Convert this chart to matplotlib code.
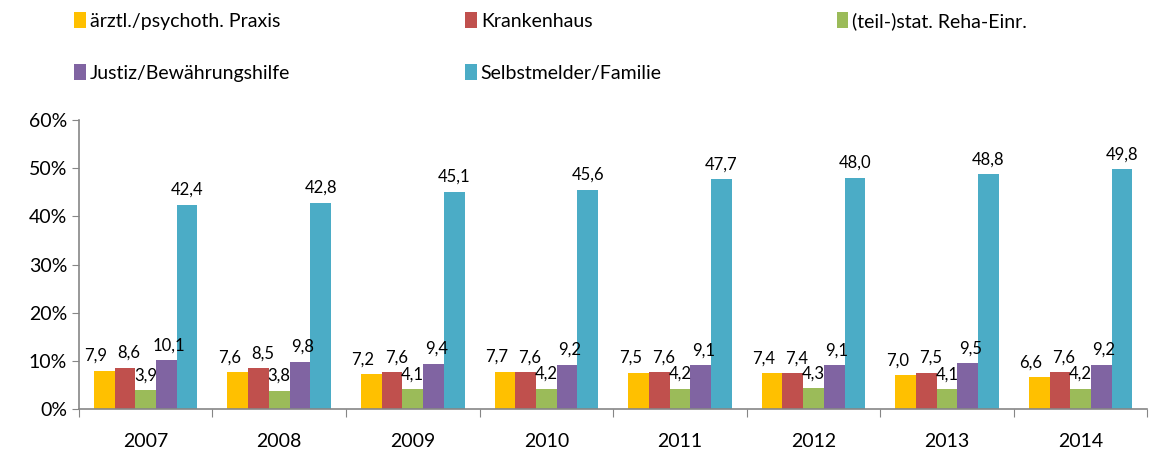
import numpy as np
import matplotlib
matplotlib.use('Agg')
from matplotlib import pyplot as plt
from matplotlib.ticker import FixedLocator, PercentFormatter

years = ['2007', '2008', '2009', '2010', '2011', '2012', '2013', '2014']
series_names = ['ärztl./psychoth. Praxis', 'Krankenhaus', '(teil-)stat. Reha-Einr.',
                'Justiz/Bewährungshilfe', 'Selbstmelder/Familie']
praxis = [7.9, 7.6, 7.2, 7.7, 7.5, 7.4, 7.0, 6.6]
krankenhaus = [8.6, 8.5, 7.6, 7.6, 7.6, 7.4, 7.5, 7.6]
reha = [3.9, 3.8, 4.1, 4.2, 4.2, 4.3, 4.1, 4.2]
justiz = [10.1, 9.8, 9.4, 9.2, 9.1, 9.1, 9.5, 9.2]
selbst = [42.4, 42.8, 45.1, 45.6, 47.7, 48.0, 48.8, 49.8]
colors = ['#FFC000', '#C0504D', '#9BBB59', '#8064A2', '#4BACC6']

if __name__ == '__main__':
    plt.rcParams['font.family'] = ['Lato', 'DejaVu Sans']

    fig = plt.figure(figsize=(11.59, 4.57), dpi=100)
    ax = fig.add_axes([0.068, 0.105, 0.922, 0.632])

    x = np.arange(len(years))
    w = 0.155
    # small sideways nudges of the value labels so neighbours don't collide
    nudge = [-6, 3, 0, 2, 0]
    handles = []
    for i, (vals, name, c) in enumerate(zip([praxis, krankenhaus, reha, justiz, selbst],
                                            series_names, colors)):
        pos = x + (i - 2) * w
        b = ax.bar(pos, vals, w, color=c, label=name, zorder=2)
        handles.append(b)
        for px, v in zip(pos, vals):
            ax.annotate(f'{v:.1f}'.replace('.', ','), (px, v), xytext=(nudge[i], 5),
                        textcoords='offset points', ha='center', va='bottom',
                        fontsize=12, color='#000000')

    ax.set_xlim(-0.5, len(years) - 0.5)
    ax.set_ylim(0, 60)
    ax.set_yticks(np.arange(0, 61, 10))
    ax.yaxis.set_major_formatter(PercentFormatter(decimals=0))
    ax.tick_params(axis='y', labelsize=14, length=5, color='#868686')

    ax.xaxis.set_major_locator(FixedLocator(np.arange(-0.5, len(years), 1)))
    ax.xaxis.set_minor_locator(FixedLocator(x))
    ax.set_xticklabels([], minor=False)
    ax.set_xticklabels(years, minor=True)
    ax.tick_params(axis='x', which='major', length=6, color='#868686')
    ax.tick_params(axis='x', which='minor', length=0, labelsize=14, pad=17)

    for s in ['top', 'right']:
        ax.spines[s].set_visible(False)
    for s in ['left', 'bottom']:
        ax.spines[s].set_color('#868686')
        ax.spines[s].set_linewidth(1.2)

    # legend fills column-wise, reorder so rows read like the original
    order = [0, 3, 1, 4, 2]
    fig.legend(handles=[handles[k] for k in order],
               labels=[series_names[k] for k in order], ncol=3, loc='upper left',
               bbox_to_anchor=(0.049, 1.012), frameon=False, fontsize=14,
               handlelength=0.6, handleheight=0.9, handletextpad=0.2,
               columnspacing=9.0, labelspacing=1.75)

    fig.savefig('out.png')
